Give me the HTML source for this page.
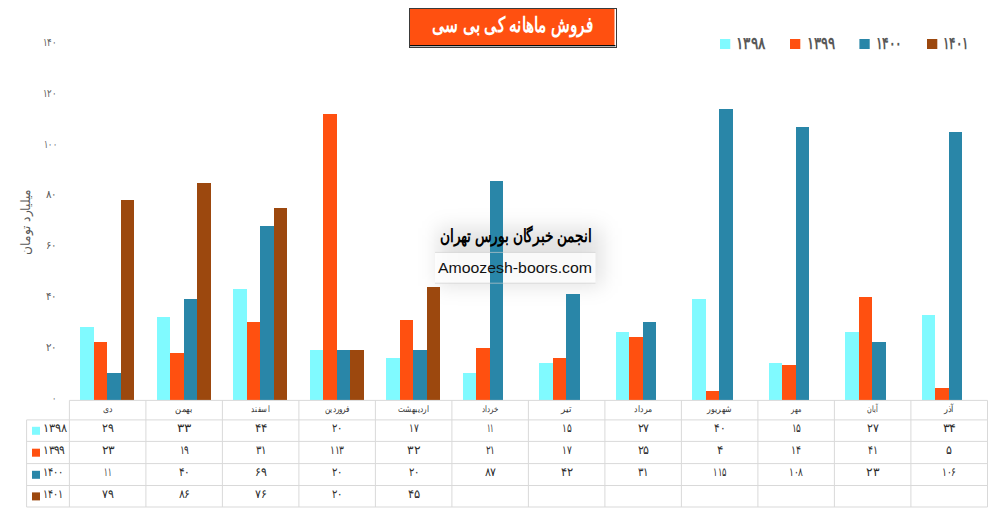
<!DOCTYPE html>
<html lang="fa"><head><meta charset="utf-8"><title>فروش ماهانه کی بی سی</title>
<style>html,body{margin:0;padding:0;background:#fff}body{width:995px;height:530px;overflow:hidden;font-family:"Liberation Sans",sans-serif}svg{display:block;font-family:"Liberation Sans",sans-serif}</style>
</head><body>
<svg width="995" height="530" viewBox="0 0 995 530">
<defs><filter id="blur" x="-30%" y="-60%" width="160%" height="220%"><feGaussianBlur stdDeviation="10"/></filter></defs>
<rect width="995" height="530" fill="#ffffff"/>
<rect x="438" y="228" width="164" height="58" fill="#000000" fill-opacity="0.115" filter="url(#blur)"/>
<rect x="435" y="252.8" width="160.5" height="30" fill="#ffffff" fill-opacity="0.8"/>
<g shape-rendering="crispEdges">
<rect x="80.4" y="326.7" width="13.5" height="73.7" fill="#80FAFF"/>
<rect x="156.9" y="316.6" width="13.5" height="83.8" fill="#80FAFF"/>
<rect x="233.4" y="288.6" width="13.5" height="111.8" fill="#80FAFF"/>
<rect x="309.9" y="349.6" width="13.5" height="50.8" fill="#80FAFF"/>
<rect x="386.4" y="358.2" width="13.5" height="42.2" fill="#80FAFF"/>
<rect x="462.9" y="372.5" width="13.5" height="27.9" fill="#80FAFF"/>
<rect x="539.4" y="363.3" width="13.5" height="37.1" fill="#80FAFF"/>
<rect x="615.9" y="331.8" width="13.5" height="68.6" fill="#80FAFF"/>
<rect x="692.4" y="298.8" width="13.5" height="101.6" fill="#80FAFF"/>
<rect x="768.9" y="363.3" width="13.5" height="37.1" fill="#80FAFF"/>
<rect x="845.4" y="331.8" width="13.5" height="68.6" fill="#80FAFF"/>
<rect x="921.9" y="315.0" width="13.5" height="85.4" fill="#80FAFF"/>
<rect x="93.9" y="342.0" width="13.5" height="58.4" fill="#FF5010"/>
<rect x="170.4" y="353.1" width="13.5" height="47.3" fill="#FF5010"/>
<rect x="246.9" y="321.7" width="13.5" height="78.7" fill="#FF5010"/>
<rect x="323.4" y="114.3" width="13.5" height="286.1" fill="#FF5010"/>
<rect x="399.9" y="320.1" width="13.5" height="80.3" fill="#FF5010"/>
<rect x="476.4" y="348.1" width="13.5" height="52.3" fill="#FF5010"/>
<rect x="552.9" y="358.2" width="13.5" height="42.2" fill="#FF5010"/>
<rect x="629.4" y="336.9" width="13.5" height="63.5" fill="#FF5010"/>
<rect x="705.9" y="391.2" width="13.5" height="9.2" fill="#FF5010"/>
<rect x="782.4" y="364.8" width="13.5" height="35.6" fill="#FF5010"/>
<rect x="858.9" y="297.3" width="13.5" height="103.1" fill="#FF5010"/>
<rect x="935.4" y="387.7" width="13.5" height="12.7" fill="#FF5010"/>
<rect x="107.4" y="372.5" width="13.5" height="27.9" fill="#2986A8"/>
<rect x="183.9" y="298.8" width="13.5" height="101.6" fill="#2986A8"/>
<rect x="260.4" y="226.1" width="13.5" height="174.3" fill="#2986A8"/>
<rect x="336.9" y="349.6" width="13.5" height="50.8" fill="#2986A8"/>
<rect x="413.4" y="349.6" width="13.5" height="50.8" fill="#2986A8"/>
<rect x="489.9" y="180.5" width="13.5" height="219.9" fill="#2986A8"/>
<rect x="566.4" y="293.7" width="13.5" height="106.7" fill="#2986A8"/>
<rect x="642.9" y="321.7" width="13.5" height="78.7" fill="#2986A8"/>
<rect x="719.4" y="109.3" width="13.5" height="291.1" fill="#2986A8"/>
<rect x="795.9" y="127.1" width="13.5" height="273.3" fill="#2986A8"/>
<rect x="872.4" y="342.0" width="13.5" height="58.4" fill="#2986A8"/>
<rect x="948.9" y="132.2" width="13.5" height="268.2" fill="#2986A8"/>
<rect x="120.9" y="199.7" width="13.5" height="200.7" fill="#9C480E"/>
<rect x="197.4" y="183.0" width="13.5" height="217.4" fill="#9C480E"/>
<rect x="273.9" y="208.4" width="13.5" height="192.0" fill="#9C480E"/>
<rect x="350.4" y="349.6" width="13.5" height="50.8" fill="#9C480E"/>
<rect x="426.9" y="287.1" width="13.5" height="113.3" fill="#9C480E"/>
</g>
<g stroke="#d9d9d9" stroke-width="1" fill="none">
<path d="M69.4 400.4H987.5"/>
<path d="M26.6 419.9H987.5"/>
<path d="M26.6 441.4H987.5"/>
<path d="M26.6 463.6H987.5"/>
<path d="M26.6 485.5H987.5"/>
<path d="M26.6 507.0H987.5"/>
<path d="M26.6 419.9V507.0"/>
<path d="M69.4 400.4V507.0"/>
<path d="M145.9 400.4V507.0"/>
<path d="M222.4 400.4V507.0"/>
<path d="M298.9 400.4V507.0"/>
<path d="M375.4 400.4V507.0"/>
<path d="M451.9 400.4V507.0"/>
<path d="M528.4 400.4V507.0"/>
<path d="M604.9 400.4V507.0"/>
<path d="M681.4 400.4V507.0"/>
<path d="M757.9 400.4V507.0"/>
<path d="M834.4 400.4V507.0"/>
<path d="M910.9 400.4V507.0"/>
<path d="M987.5 400.4V507.0"/>
</g>
<g font-size="9" fill="#333333" text-anchor="middle">
<text x="107.7" y="412" textLength="9.5" lengthAdjust="spacingAndGlyphs">دی</text>
<text x="184.2" y="412" textLength="17.5" lengthAdjust="spacingAndGlyphs">بهمن</text>
<text x="260.6" y="412" textLength="18.5" lengthAdjust="spacingAndGlyphs">اسفند</text>
<text x="337.1" y="412" textLength="25.0" lengthAdjust="spacingAndGlyphs">فروردین</text>
<text x="413.6" y="412" textLength="31.0" lengthAdjust="spacingAndGlyphs">اردیبهشت</text>
<text x="490.1" y="412" textLength="17.0" lengthAdjust="spacingAndGlyphs">خرداد</text>
<text x="566.6" y="412" textLength="11.0" lengthAdjust="spacingAndGlyphs">تیر</text>
<text x="643.1" y="412" textLength="18.0" lengthAdjust="spacingAndGlyphs">مرداد</text>
<text x="719.6" y="412" textLength="25.0" lengthAdjust="spacingAndGlyphs">شهریور</text>
<text x="796.1" y="412" textLength="10.0" lengthAdjust="spacingAndGlyphs">مهر</text>
<text x="872.6" y="412" textLength="11.5" lengthAdjust="spacingAndGlyphs">آبان</text>
<text x="949.1" y="412" textLength="10.0" lengthAdjust="spacingAndGlyphs">آذر</text>
</g>
<g font-size="12" fill="#2b2b2b" text-anchor="middle">
<text x="107.7" y="432.4" textLength="11.0" lengthAdjust="spacingAndGlyphs">۲۹</text>
<text x="184.2" y="432.4" textLength="13.6" lengthAdjust="spacingAndGlyphs">۳۳</text>
<text x="260.6" y="432.4" textLength="12.0" lengthAdjust="spacingAndGlyphs">۴۴</text>
<text x="337.1" y="432.4" textLength="10.1" lengthAdjust="spacingAndGlyphs">۲۰</text>
<text x="413.6" y="432.4" textLength="8.9" lengthAdjust="spacingAndGlyphs">۱۷</text>
<text x="490.1" y="432.4" textLength="6.8" lengthAdjust="spacingAndGlyphs">۱۱</text>
<text x="566.6" y="432.4" textLength="8.9" lengthAdjust="spacingAndGlyphs">۱۵</text>
<text x="643.1" y="432.4" textLength="11.0" lengthAdjust="spacingAndGlyphs">۲۷</text>
<text x="719.6" y="432.4" textLength="10.6" lengthAdjust="spacingAndGlyphs">۴۰</text>
<text x="796.1" y="432.4" textLength="8.9" lengthAdjust="spacingAndGlyphs">۱۵</text>
<text x="872.6" y="432.4" textLength="11.0" lengthAdjust="spacingAndGlyphs">۲۷</text>
<text x="949.1" y="432.4" textLength="12.8" lengthAdjust="spacingAndGlyphs">۳۴</text>
<text x="107.7" y="454.3" textLength="12.3" lengthAdjust="spacingAndGlyphs">۲۳</text>
<text x="184.2" y="454.3" textLength="8.9" lengthAdjust="spacingAndGlyphs">۱۹</text>
<text x="260.6" y="454.3" textLength="10.2" lengthAdjust="spacingAndGlyphs">۳۱</text>
<text x="337.1" y="454.3" textLength="13.6" lengthAdjust="spacingAndGlyphs">۱۱۳</text>
<text x="413.6" y="454.3" textLength="12.3" lengthAdjust="spacingAndGlyphs">۳۲</text>
<text x="490.1" y="454.3" textLength="8.9" lengthAdjust="spacingAndGlyphs">۲۱</text>
<text x="566.6" y="454.3" textLength="8.9" lengthAdjust="spacingAndGlyphs">۱۷</text>
<text x="643.1" y="454.3" textLength="11.0" lengthAdjust="spacingAndGlyphs">۲۵</text>
<text x="719.6" y="454.3" textLength="6.0" lengthAdjust="spacingAndGlyphs">۴</text>
<text x="796.1" y="454.3" textLength="9.4" lengthAdjust="spacingAndGlyphs">۱۴</text>
<text x="872.6" y="454.3" textLength="9.4" lengthAdjust="spacingAndGlyphs">۴۱</text>
<text x="949.1" y="454.3" textLength="5.5" lengthAdjust="spacingAndGlyphs">۵</text>
<text x="107.7" y="476.4" textLength="6.8" lengthAdjust="spacingAndGlyphs">۱۱</text>
<text x="184.2" y="476.4" textLength="10.6" lengthAdjust="spacingAndGlyphs">۴۰</text>
<text x="260.6" y="476.4" textLength="11.0" lengthAdjust="spacingAndGlyphs">۶۹</text>
<text x="337.1" y="476.4" textLength="10.1" lengthAdjust="spacingAndGlyphs">۲۰</text>
<text x="413.6" y="476.4" textLength="10.1" lengthAdjust="spacingAndGlyphs">۲۰</text>
<text x="490.1" y="476.4" textLength="11.0" lengthAdjust="spacingAndGlyphs">۸۷</text>
<text x="566.6" y="476.4" textLength="11.5" lengthAdjust="spacingAndGlyphs">۴۲</text>
<text x="643.1" y="476.4" textLength="10.2" lengthAdjust="spacingAndGlyphs">۳۱</text>
<text x="719.6" y="476.4" textLength="12.3" lengthAdjust="spacingAndGlyphs">۱۱۵</text>
<text x="796.1" y="476.4" textLength="13.5" lengthAdjust="spacingAndGlyphs">۱۰۸</text>
<text x="872.6" y="476.4" textLength="12.3" lengthAdjust="spacingAndGlyphs">۲۳</text>
<text x="949.1" y="476.4" textLength="13.5" lengthAdjust="spacingAndGlyphs">۱۰۶</text>
<text x="107.7" y="498.1" textLength="11.0" lengthAdjust="spacingAndGlyphs">۷۹</text>
<text x="184.2" y="498.1" textLength="11.0" lengthAdjust="spacingAndGlyphs">۸۶</text>
<text x="260.6" y="498.1" textLength="11.0" lengthAdjust="spacingAndGlyphs">۷۶</text>
<text x="337.1" y="498.1" textLength="10.1" lengthAdjust="spacingAndGlyphs">۲۰</text>
<text x="413.6" y="498.1" textLength="11.5" lengthAdjust="spacingAndGlyphs">۴۵</text>
</g>
<g font-size="12" fill="#2b2b2b" text-anchor="start">
<rect x="32" y="426.8" width="8" height="8" fill="#80FAFF"/>
<text x="43.3" y="432.4" textLength="23.0" lengthAdjust="spacingAndGlyphs">۱۳۹۸</text>
<rect x="32" y="448.7" width="8" height="8" fill="#FF5010"/>
<text x="43.3" y="454.3" textLength="21.5" lengthAdjust="spacingAndGlyphs">۱۳۹۹</text>
<rect x="32" y="470.8" width="8" height="8" fill="#2986A8"/>
<text x="43.3" y="476.4" textLength="19.7" lengthAdjust="spacingAndGlyphs">۱۴۰۰</text>
<rect x="32" y="492.4" width="8" height="8" fill="#9C480E"/>
<text x="43.3" y="498.1" textLength="19.2" lengthAdjust="spacingAndGlyphs">۱۴۰۱</text>
</g>
<g font-size="11" fill="#595959" text-anchor="end">
<text x="56.8" y="46.0" textLength="14.0" lengthAdjust="spacingAndGlyphs">۱۴۰</text>
<text x="56.8" y="96.8" textLength="14.0" lengthAdjust="spacingAndGlyphs">۱۲۰</text>
<text x="56.8" y="147.6" textLength="12.6" lengthAdjust="spacingAndGlyphs">۱۰۰</text>
<text x="56.8" y="198.4" textLength="11.2" lengthAdjust="spacingAndGlyphs">۸۰</text>
<text x="56.8" y="249.2" textLength="11.2" lengthAdjust="spacingAndGlyphs">۶۰</text>
<text x="56.8" y="300.0" textLength="11.2" lengthAdjust="spacingAndGlyphs">۴۰</text>
<text x="56.8" y="350.8" textLength="11.2" lengthAdjust="spacingAndGlyphs">۲۰</text>
<text x="56.8" y="401.6" textLength="4.4" lengthAdjust="spacingAndGlyphs">۰</text>
</g>
<text transform="translate(30 222) rotate(-90)" font-size="12.5" fill="#595959" text-anchor="middle" textLength="66" lengthAdjust="spacingAndGlyphs">میلیارد تومان</text>
<g font-size="17" font-weight="bold" fill="#595959" text-anchor="start">
<rect x="720.0" y="39" width="10.3" height="10" fill="#80FAFF"/>
<text x="736.2" y="48.8" textLength="29.0" lengthAdjust="spacingAndGlyphs">۱۳۹۸</text>
<rect x="790.0" y="39" width="10.3" height="10" fill="#FF5010"/>
<text x="806.7" y="48.8" textLength="28.2" lengthAdjust="spacingAndGlyphs">۱۳۹۹</text>
<rect x="859.4" y="39" width="10.3" height="10" fill="#2986A8"/>
<text x="875.5" y="48.8" textLength="26.1" lengthAdjust="spacingAndGlyphs">۱۴۰۰</text>
<rect x="927.0" y="39" width="10.3" height="10" fill="#9C480E"/>
<text x="943.1" y="48.8" textLength="25.2" lengthAdjust="spacingAndGlyphs">۱۴۰۱</text>
</g>
<rect x="409.5" y="8.5" width="207" height="39" fill="#ffffff" stroke="#3a3a3a" stroke-width="1"/>
<rect x="410" y="9" width="204.5" height="36.4" fill="#FF5010"/>
<rect x="410" y="45" width="205.4" height="1.3" fill="#0a0a0a"/>
<text x="512.5" y="32" font-size="21" font-weight="bold" fill="#ffffff" text-anchor="middle" textLength="161" lengthAdjust="spacingAndGlyphs">فروش ماهانه کی بی سی</text>
<path d="M435 252.4H595.5M435 283.2H595.5" stroke="#cfcfcf" stroke-opacity="0.8" stroke-width="0.8" fill="none"/>
<text x="515.8" y="242" font-size="17.5" font-weight="bold" fill="#000000" text-anchor="middle" textLength="152" lengthAdjust="spacingAndGlyphs">انجمن خبرگان بورس تهران</text>
<text x="515" y="273" font-size="15" fill="#111111" text-anchor="middle" textLength="154" lengthAdjust="spacingAndGlyphs">Amoozesh-boors.com</text>
</svg>
</body></html>
